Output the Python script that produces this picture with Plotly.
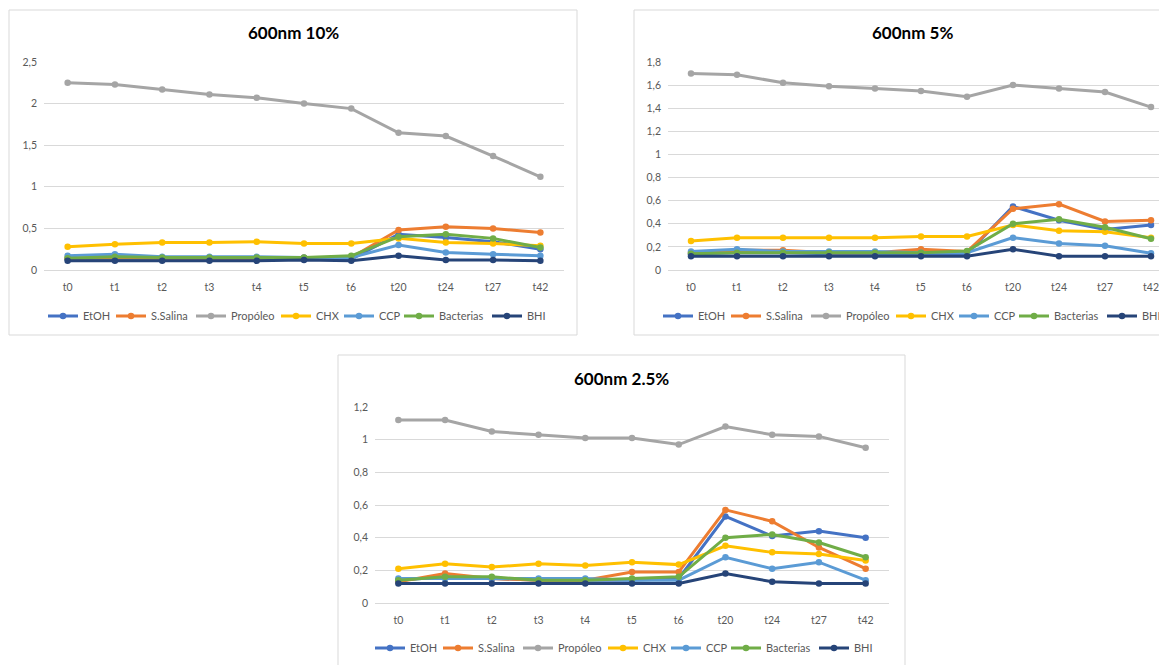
import plotly.graph_objects as go

W, H = 1159, 665

categories = ["t0", "t1", "t2", "t3", "t4", "t5", "t6", "t20", "t24", "t27", "t42"]
series_names = ["EtOH", "S.Salina", "Propóleo", "CHX", "CCP", "Bacterias", "BHI"]
series_colors = ["#4472C4", "#ED7D31", "#A5A5A5", "#FFC000", "#5B9BD5", "#70AD47", "#264478"]
# legend entry text widths (px) to mimic the Excel legend spacing
legend_entry_px = [23, 35, 40, 18, 15, 43, 17]

# 600nm 10%
etoh_10 = [0.13, 0.14, 0.13, 0.13, 0.13, 0.14, 0.13, 0.43, 0.39, 0.34, 0.25]
ssalina_10 = [0.14, 0.15, 0.14, 0.14, 0.14, 0.15, 0.15, 0.48, 0.52, 0.50, 0.45]
propoleo_10 = [2.25, 2.23, 2.17, 2.11, 2.07, 2.00, 1.94, 1.65, 1.61, 1.37, 1.12]
chx_10 = [0.28, 0.31, 0.33, 0.33, 0.34, 0.32, 0.32, 0.38, 0.33, 0.32, 0.29]
ccp_10 = [0.17, 0.19, 0.16, 0.16, 0.16, 0.15, 0.15, 0.30, 0.21, 0.19, 0.17]
bacterias_10 = [0.14, 0.16, 0.15, 0.15, 0.15, 0.15, 0.17, 0.40, 0.43, 0.38, 0.27]
bhi_10 = [0.11, 0.11, 0.11, 0.11, 0.11, 0.12, 0.11, 0.17, 0.12, 0.12, 0.11]

# 600nm 5%
etoh_5 = [0.14, 0.15, 0.15, 0.14, 0.14, 0.14, 0.14, 0.55, 0.43, 0.35, 0.39]
ssalina_5 = [0.15, 0.17, 0.17, 0.15, 0.15, 0.18, 0.16, 0.53, 0.57, 0.42, 0.43]
propoleo_5 = [1.70, 1.69, 1.62, 1.59, 1.57, 1.55, 1.50, 1.60, 1.57, 1.54, 1.41]
chx_5 = [0.25, 0.28, 0.28, 0.28, 0.28, 0.29, 0.29, 0.39, 0.34, 0.33, 0.28]
ccp_5 = [0.16, 0.18, 0.16, 0.16, 0.16, 0.15, 0.15, 0.28, 0.23, 0.21, 0.145]
bacterias_5 = [0.14, 0.15, 0.15, 0.15, 0.15, 0.15, 0.165, 0.40, 0.44, 0.37, 0.27]
bhi_5 = [0.12, 0.12, 0.12, 0.12, 0.12, 0.12, 0.12, 0.18, 0.12, 0.12, 0.12]

# 600nm 2.5%
etoh_25 = [0.14, 0.16, 0.15, 0.14, 0.14, 0.14, 0.15, 0.53, 0.41, 0.44, 0.40]
ssalina_25 = [0.13, 0.18, 0.15, 0.14, 0.14, 0.19, 0.19, 0.57, 0.50, 0.34, 0.21]
propoleo_25 = [1.12, 1.12, 1.05, 1.03, 1.01, 1.01, 0.97, 1.08, 1.03, 1.02, 0.95]
chx_25 = [0.21, 0.24, 0.22, 0.24, 0.23, 0.25, 0.235, 0.35, 0.31, 0.30, 0.26]
ccp_25 = [0.15, 0.15, 0.15, 0.15, 0.15, 0.14, 0.14, 0.28, 0.21, 0.25, 0.14]
bacterias_25 = [0.14, 0.16, 0.16, 0.14, 0.14, 0.15, 0.16, 0.40, 0.42, 0.37, 0.28]
bhi_25 = [0.12, 0.12, 0.12, 0.12, 0.12, 0.12, 0.12, 0.18, 0.13, 0.12, 0.12]

titles = ["600nm 10%", "600nm 5%", "600nm 2.5%"]
y_max = [2.5, 1.8, 1.2]
y_dtick = [0.5, 0.2, 0.2]

charts = [
    [etoh_10, ssalina_10, propoleo_10, chx_10, ccp_10, bacterias_10, bhi_10],
    [etoh_5, ssalina_5, propoleo_5, chx_5, ccp_5, bacterias_5, bhi_5],
    [etoh_25, ssalina_25, propoleo_25, chx_25, ccp_25, bacterias_25, bhi_25],
]

FONT = "Lato, 'Open Sans', sans-serif"
GRID = "#D9D9D9"
TXT = "#595959"

# layout geometry in pixels (left, right, top, bottom) for plot areas and panels
plot_px = [(44, 564, 62, 270), (668, 1174, 62, 270), (375, 889, 407, 603)]
panel_px = [(9, 577, 10, 335), (634, 1190, 10, 335), (338, 905, 355, 690)]
title_px = [(293, 33), (912, 33), (621, 378)]
legend_px = [(43, 316), (658, 316), (370, 648)]


def px_x(x):
    return x / W


def px_y(y):
    return 1 - y / H


fig = go.Figure()
layout = dict(
    width=W, height=H, autosize=False,
    margin=dict(l=0, r=0, t=0, b=0, autoexpand=False),
    paper_bgcolor="white", plot_bgcolor="white",
    separators=", ",
    font=dict(family=FONT, color=TXT, size=10),
    shapes=[], annotations=[],
)

for i, data in enumerate(charts):
    sfx = "" if i == 0 else str(i + 1)
    leg = "legend" if i == 0 else f"legend{i + 1}"
    for name, color, vals, lw in zip(series_names, series_colors, data, legend_entry_px):
        fig.add_trace(go.Scatter(
            x=categories, y=vals, name=name, mode="lines+markers",
            line=dict(color=color, width=3),
            marker=dict(color=color, size=6.5, symbol="circle"),
            xaxis="x" + sfx, yaxis="y" + sfx, legend=leg, legendwidth=lw,
        ))
    l, r, t, b = plot_px[i]
    ncat = len(categories)
    cw = (r - l) / ncat
    r_vis = min(r, W)
    x_hi = -0.5 + (r_vis - l) / cw
    layout["xaxis" + sfx] = dict(
        domain=[px_x(l), px_x(r_vis)], anchor="y" + sfx,
        type="category", range=[-0.5, x_hi],
        showgrid=False, showline=True, linecolor=GRID, linewidth=1,
        ticks="", tickfont=dict(size=10.5, color=TXT, family=FONT),
        ticklabelstandoff=7, fixedrange=True, automargin=False,
    )
    layout["yaxis" + sfx] = dict(
        domain=[px_y(b), px_y(t)], anchor="x" + sfx,
        range=[0, y_max[i]], dtick=y_dtick[i], tick0=0,
        showgrid=True, gridcolor=GRID, gridwidth=1,
        zeroline=False, showline=False, ticks="",
        tickfont=dict(size=10.5, color=TXT, family=FONT),
        ticklabelstandoff=6, fixedrange=True, automargin=False,
    )
    pl, pr, pt, pb = panel_px[i]
    layout["shapes"].append(dict(
        type="rect", xref="paper", yref="paper",
        x0=px_x(pl), x1=px_x(pr), y0=px_y(pb), y1=px_y(pt),
        line=dict(color=GRID, width=1), fillcolor="rgba(0,0,0,0)", layer="below",
    ))
    tx, ty = title_px[i]
    layout["annotations"].append(dict(
        text=f"<b>{titles[i]}</b>", xref="paper", yref="paper",
        x=px_x(tx), y=px_y(ty), xanchor="center", yanchor="middle",
        showarrow=False, font=dict(size=17, color="#000000", family=FONT),
    ))
    lx, ly = legend_px[i]
    layout[leg] = dict(
        orientation="h", x=px_x(lx), y=px_y(ly), xanchor="left", yanchor="middle",
        xref="paper", yref="paper", bgcolor="rgba(0,0,0,0)",
        font=dict(size=11, color=TXT, family=FONT),
        itemwidth=30, traceorder="normal",
    )

fig.update_layout(**layout)
fig.write_html("out.html")
